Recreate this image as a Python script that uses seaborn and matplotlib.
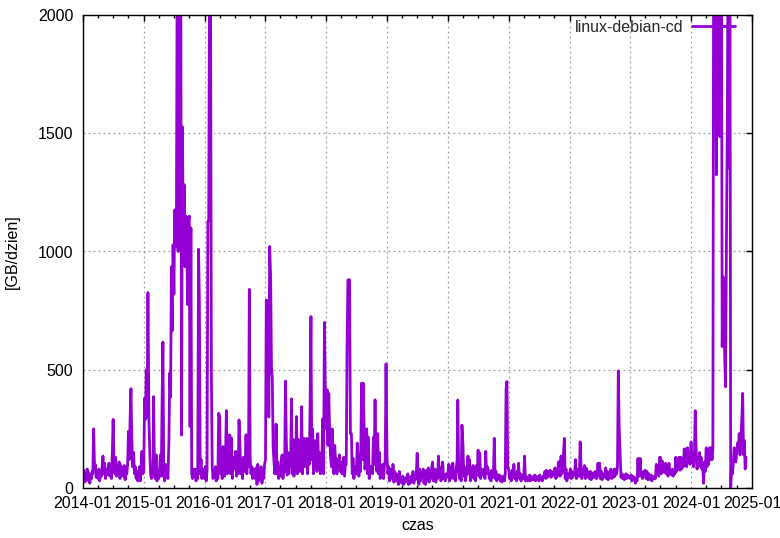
import matplotlib
matplotlib.use("Agg")
import matplotlib.pyplot as plt
import matplotlib.dates as mdates
from matplotlib.ticker import MultipleLocator
import pandas as pd
import seaborn as sns

# GB per day, six readings per month (days 1, 6, 11, 16, 21, 26)
y2014 = [40, 75, 25, 60, 30, 80, 35, 65, 20, 55, 40, 70, 60, 250, 90, 100, 45, 70,
         40, 80, 30, 60, 50, 90, 135, 60, 105, 40, 80, 55, 70, 105, 50, 90, 40, 150,
         290, 100, 60, 130, 50, 95, 60, 110, 40, 95, 55, 85, 50, 95, 35, 80, 60, 100,
         240, 120, 297, 420, 207, 90, 150, 60, 90, 40, 70, 30, 50, 90, 30, 80, 155, 60]
y2015 = [70, 380, 290, 500, 300, 826, 290, 155, 60, 40, 75, 50, 386, 60, 40, 140, 30, 70,
         40, 80, 140, 50, 365, 617, 60, 30, 100, 50, 75, 40, 200, 487, 385, 935, 665, 1028,
         820, 1176, 1020, 1100, 2300, 1000, 2500, 1050, 2200, 224, 1527, 1100,
         1282, 935, 1150, 1100, 776, 1130, 1150, 260, 1100, 60, 40, 80,
         50, 80, 30, 60, 40, 1010, 788, 60, 120, 40, 80, 50]
y2016 = [40, 90, 30, 70, 1127, 1130, 2400, 2100, 487, 90, 40, 70, 50, 90, 30, 70, 40, 316,
         300, 60, 110, 40, 175, 70, 50, 130, 327, 60, 224, 80, 224, 60, 210, 40, 130, 80,
         90, 155, 50, 110, 60, 288, 175, 60, 100, 40, 130, 70, 80, 225, 60, 150, 90, 840,
         126, 60, 90, 40, 80, 50, 40, 85, 15, 100, 30, 70, 50, 90, 20, 70, 40, 100]
y2017 = [120, 795, 560, 790, 300, 1021, 894, 508, 460, 175, 112, 60, 80, 270, 60, 110, 40, 90,
         50, 120, 140, 40, 90, 70, 452, 205, 55, 150, 60, 110, 90, 377, 60, 205, 50, 120,
         80, 302, 60, 207, 150, 70, 100, 344, 60, 175, 210, 90, 150, 210, 60, 180, 100, 348,
         725, 120, 250, 60, 200, 90, 200, 70, 230, 90, 150, 60, 80, 120, 292, 60, 700, 415]
y2018 = [250, 415, 180, 400, 250, 140, 90, 250, 140, 60, 180, 110, 125, 60, 110, 90, 140, 70,
         110, 60, 90, 130, 50, 100, 100, 600, 880, 880, 880, 230, 230, 60, 125, 40, 90, 70,
         60, 190, 135, 50, 100, 70, 443, 120, 443, 250, 80, 100, 250, 60, 215, 40, 90, 70,
         90, 60, 215, 100, 373, 120, 70, 230, 60, 150, 40, 90, 60, 100, 40, 90, 120, 525]
y2019 = [125, 60, 90, 30, 80, 40, 45, 100, 25, 70, 30, 60, 30, 45, 15, 70, 25, 40,
         20, 50, 15, 40, 25, 45, 30, 60, 15, 45, 20, 50, 30, 70, 20, 50, 35, 60,
         147, 55, 15, 80, 30, 60, 55, 80, 20, 65, 15, 75, 30, 85, 25, 70, 40, 85,
         110, 30, 45, 80, 25, 60, 40, 135, 50, 85, 30, 70, 110, 40, 55, 30, 60, 45]
y2020 = [50, 100, 30, 85, 40, 100, 105, 40, 60, 30, 80, 120, 372, 85, 40, 70, 30, 266,
         182, 50, 90, 30, 55, 70, 135, 60, 120, 30, 70, 50, 95, 40, 80, 30, 95, 60,
         160, 50, 148, 40, 80, 55, 55, 80, 40, 155, 60, 90, 75, 40, 55, 30, 75, 45,
         50, 210, 40, 70, 30, 55, 40, 55, 30, 50, 25, 45, 50, 30, 60, 419, 450, 90]
y2021 = [75, 40, 55, 30, 75, 45, 100, 40, 60, 30, 70, 50, 105, 40, 60, 30, 55, 45,
         40, 135, 30, 50, 40, 30, 40, 55, 30, 50, 35, 45, 35, 55, 30, 50, 40, 45,
         30, 55, 35, 45, 30, 50, 50, 70, 40, 75, 45, 65, 60, 75, 45, 70, 50, 65,
         60, 85, 40, 70, 50, 110, 110, 50, 135, 60, 90, 150, 210, 40, 80, 30, 60, 45]
y2022 = [55, 80, 40, 70, 45, 60, 60, 120, 40, 80, 50, 70, 50, 195, 95, 40, 80, 60,
         95, 40, 85, 50, 70, 45, 40, 70, 35, 60, 45, 65, 45, 70, 40, 60, 105, 50,
         105, 40, 70, 35, 60, 45, 50, 85, 40, 70, 35, 60, 60, 80, 40, 70, 45, 80,
         50, 80, 60, 90, 495, 262, 150, 45, 60, 40, 55, 35, 50, 60, 40, 55, 45, 50]
y2023 = [40, 55, 30, 50, 35, 45, 20, 40, 30, 125, 50, 60, 125, 50, 60, 40, 70, 55,
         75, 40, 70, 35, 60, 45, 35, 55, 30, 50, 40, 45, 40, 100, 60, 90, 50, 130,
         130, 60, 115, 70, 100, 65, 105, 60, 95, 50, 105, 70, 70, 55, 80, 50, 75, 60,
         130, 70, 125, 80, 130, 75, 130, 80, 110, 90, 165, 100, 165, 90, 170, 110, 150, 100]
y2024 = [195, 110, 150, 90, 140, 327, 150, 80, 130, 100, 150, 90, 130, 80, 95, 20, 110, 70,
         170, 90, 160, 100, 170, 120, 170, 120, 170, 2500, 2500, 2500,
         1324, 2500, 2500, 2500, 1486, 2500, 2500, 598, 893, 825, 560, 428,
         1100, 1557, 2500, 1353, 2500, 0, 90, 60, 110, 170, 140, 110,
         150, 190, 160, 230, 140, 200, 296, 400, 140, 200, 80, 130]

years = [2014, 2015, 2016, 2017, 2018, 2019, 2020, 2021, 2022, 2023, 2024]
yearly = [y2014, y2015, y2016, y2017, y2018, y2019, y2020, y2021, y2022, y2023, y2024]
series_name = "linux-debian-cd"

dates, values = [], []
for yr, arr in zip(years, yearly):
    for i, v in enumerate(arr):
        dates.append(pd.Timestamp(yr, i // 6 + 1, 1 + 5 * (i % 6)))
        values.append(v)
df = pd.DataFrame({"czas": dates, "value": values})

sns.set_theme(style="white")
plt.rcParams["font.family"] = ["Liberation Sans", "DejaVu Sans"]
FS = 11.5

fig = plt.figure(figsize=(7.8, 5.38), dpi=100)
ax = fig.add_axes([83 / 780, 1 - 488 / 538, (752 - 83) / 780, (488 - 15) / 538])

sns.lineplot(data=df, x="czas", y="value", ax=ax, color="#9400D3", linewidth=2.0,
             estimator=None, label=series_name)

ax.set_xlim(pd.Timestamp("2014-01-01"), pd.Timestamp("2025-01-01"))
ax.set_ylim(0, 2000)
ax.xaxis.set_major_locator(mdates.YearLocator())
ax.xaxis.set_major_formatter(mdates.DateFormatter("%Y-%m"))
ax.xaxis.set_minor_locator(mdates.MonthLocator(bymonth=[4, 7, 10]))
ax.yaxis.set_major_locator(MultipleLocator(500))

ax.tick_params(which="major", direction="in", top=True, right=True, length=4.5,
               width=1, color="black", labelsize=FS, labelcolor="black")
ax.tick_params(axis="x", which="major", pad=6)
ax.tick_params(axis="y", which="major", pad=7)
ax.tick_params(which="minor", direction="in", top=True, bottom=True, length=2.5,
               width=1, color="black")

ax.grid(True, which="major", color="#a0a0a0", linestyle=(0, (1.5, 2.5)), linewidth=0.9)
for s in ax.spines.values():
    s.set_visible(True)
    s.set_color("black")
    s.set_linewidth(1.0)

ax.set_xlabel("czas", fontsize=FS, color="black", labelpad=5)
ax.set_ylabel("[GB/dzien]", fontsize=FS, color="black", labelpad=13)

ax.legend(loc="upper right", frameon=False, markerfirst=False, fontsize=FS,
          handlelength=2.7, handletextpad=0.5, borderpad=0, borderaxespad=0,
          bbox_to_anchor=(735 / 780, 1 - 20 / 538), bbox_transform=fig.transFigure)

fig.savefig("out.png", dpi=100)
